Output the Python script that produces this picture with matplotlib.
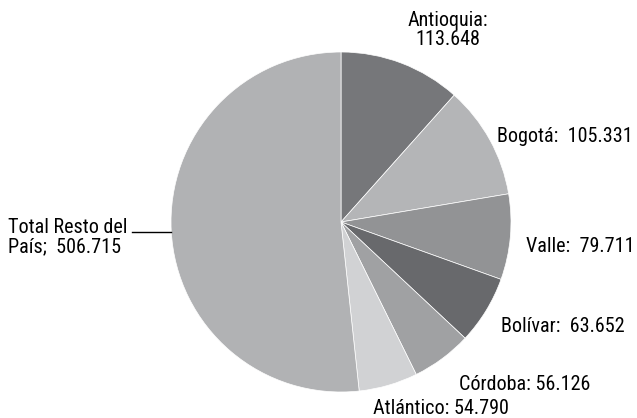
import matplotlib
matplotlib.use("Agg")
import matplotlib.pyplot as plt

# data (values in thousands)
labels = ["Antioquia", "Bogotá", "Valle", "Bolívar", "Córdoba", "Atlántico", "Total Resto del País"]
values = [113.648, 105.331, 79.711, 63.652, 56.126, 54.790, 506.715]
value_text = ["113.648", "105.331", "79.711", "63.652", "56.126", "54.790", "506.715"]
colors = ["#76777a", "#b4b5b7", "#929395", "#68696c", "#a0a1a3", "#d1d2d4", "#b1b2b4"]

plt.rcParams["font.family"] = ["Roboto Condensed", "Liberation Sans", "DejaVu Sans"]

W, H = 637, 418
fig = plt.figure(figsize=(W / 100, H / 100), dpi=100)
ax = fig.add_axes([0, 0, 1, 1])

cx, cy, r = 341, H - 222, 170
ax.pie(values, colors=colors, startangle=90, counterclock=False,
       center=(cx, cy), radius=r, frame=True,
       wedgeprops=dict(edgecolor="white", linewidth=0.5))
ax.set_xlim(0, W)
ax.set_ylim(0, H)
ax.axis("off")

fs = 14.5
# labels placed by hand, pixel coords from the top-left
ax.text(448, H - 30, labels[0] + ":\n" + value_text[0], ha="center", va="center",
        fontsize=fs, linespacing=1.05)
ax.text(497, H - 136, labels[1] + ":  " + value_text[1], ha="left", va="center", fontsize=fs)
ax.text(526, H - 246, labels[2] + ":  " + value_text[2], ha="left", va="center", fontsize=fs)
ax.text(501, H - 326, labels[3] + ":  " + value_text[3], ha="left", va="center", fontsize=fs)
ax.text(459, H - 384, labels[4] + ": " + value_text[4], ha="left", va="center", fontsize=fs)
ax.text(373, H - 409, labels[5] + ": " + value_text[5], ha="left", va="center", fontsize=fs)
ax.text(8, H - 237, "Total Resto del\nPaís;  " + value_text[6], ha="left", va="center",
        fontsize=fs, linespacing=1.05)
ax.plot([132, 171], [H - 232, H - 232], color="black", linewidth=1)

fig.savefig("out.png", dpi=100)
